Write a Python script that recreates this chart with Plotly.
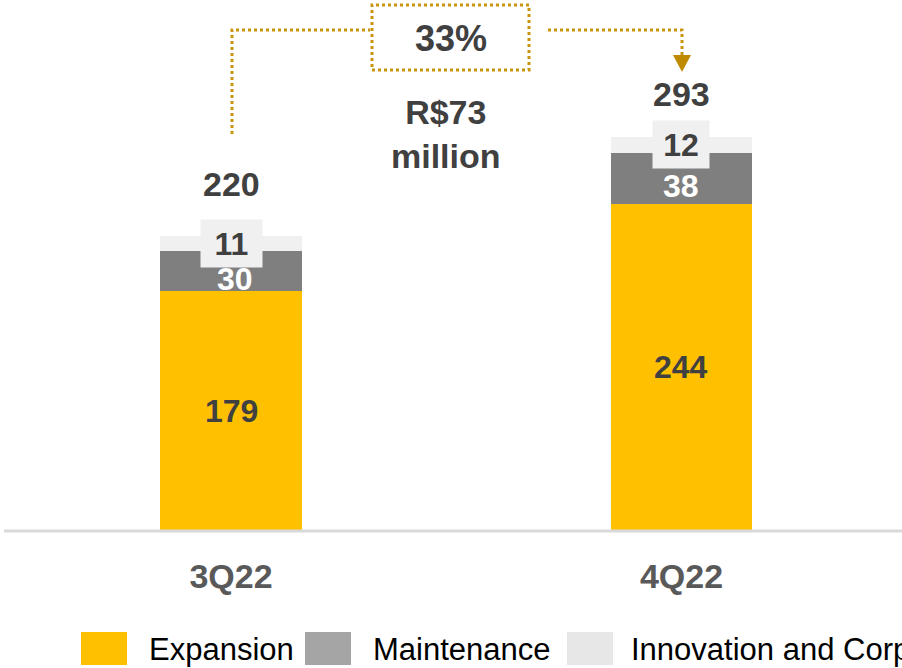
import plotly.graph_objects as go

# Capex by quarter, R$ million
quarters = ["3Q22", "4Q22"]
expansion = [179, 244]
maintenance = [30, 38]
innovation = [11, 12]
totals = [220, 293]
growth_label = "33%"
delta_label = "R$73<br>million"
legend_names = ["Expansion", "Maintenance", "Innovation and Corporate"]

W, H = 902, 668
PLOT_BOTTOM = 531  # pixel row of the baseline
FONT = "Liberation Sans, Arial, sans-serif"
DARK = "#404040"
GOLD = "#C9940E"

bar_colors = ["#FFC000", "#7F7F7F", "#F0F0F0"]
legend_colors = ["#FFC000", "#A5A5A5", "#E7E7E7"]


def px(x):
    return x / W


def py(y):
    return (PLOT_BOTTOM - y) / PLOT_BOTTOM


fig = go.Figure()
for name, vals, col in zip(legend_names, [expansion, maintenance, innovation], bar_colors):
    fig.add_trace(go.Bar(
        x=quarters, y=vals, name=name, marker=dict(color=col, line=dict(width=0)),
        width=0.315, showlegend=False, hoverinfo="skip",
    ))

annotations = []
for i, q in enumerate(quarters):
    e, m, n = expansion[i], maintenance[i], innovation[i]
    # expansion value
    annotations.append(dict(x=q, y=e / 2, text=f"<b>{e}</b>", showarrow=False,
                            font=dict(family=FONT, size=32, color=DARK)))
    # maintenance value (white)
    annotations.append(dict(x=q, y=e + m / 2, text=f"<b>{m}</b>", showarrow=False,
                            yshift=-8, xshift=4 if i == 0 else 0,
                            font=dict(family=FONT, size=32, color="white")))
    # innovation value on a light tag
    annotations.append(dict(x=q, y=e + m + n / 2, text=f"<b>{n}</b>", showarrow=False,
                            bgcolor="#F0F0F0", width=54 if i == 1 else 59, height=45,
                            font=dict(family=FONT, size=32, color=DARK)))
    # total on top
    annotations.append(dict(x=q, y=totals[i], text=f"<b>{totals[i]}</b>", showarrow=False,
                            yshift=52 if i == 0 else 44,
                            font=dict(family=FONT, size=34, color=DARK)))

# growth callout
annotations.append(dict(xref="paper", yref="paper", x=px(451), y=py(39),
                        xanchor="center", yanchor="middle",
                        text=f"<b>{growth_label}</b>", showarrow=False,
                        font=dict(family=FONT, size=36, color=DARK)))
annotations.append(dict(xref="paper", yref="paper", x=px(446), y=py(134),
                        xanchor="center", yanchor="middle",
                        text=f"<b>{delta_label}</b>", showarrow=False,
                        font=dict(family=FONT, size=34, color=DARK)))

# legend text
legend_sq_x = [81, 305, 567]
legend_tx_x = [147, 371, 629]
for name, col, sx, tx in zip(legend_names, legend_colors, legend_sq_x, legend_tx_x):
    annotations.append(dict(xref="paper", yref="paper", x=px(tx), y=py(649),
                            xanchor="left", yanchor="middle", text=name, showarrow=False,
                            font=dict(family=FONT, size=31, color="#000000")))

shapes = []
for col, sx in zip(legend_colors, legend_sq_x):
    shapes.append(dict(type="rect", xref="paper", yref="paper",
                       x0=px(sx), x1=px(sx + 46), y0=py(665), y1=py(632),
                       fillcolor=col, line=dict(width=0)))

# baseline
shapes.append(dict(type="line", xref="paper", yref="paper", x0=px(4), x1=1, y0=0, y1=0,
                   line=dict(color="#D9D9D9", width=3)))

dot = dict(color=GOLD, width=3, dash="3px,3px")
# dotted box around the growth figure
shapes.append(dict(type="rect", xref="paper", yref="paper",
                   x0=px(372), x1=px(529), y0=py(70), y1=py(5), line=dot))
# left connector
shapes.append(dict(type="path", xref="paper", yref="paper",
                   path=f"M {px(232)},{py(134)} L {px(232)},{py(30)} L {px(370)},{py(30)}",
                   line=dot))
# right connector
shapes.append(dict(type="path", xref="paper", yref="paper",
                   path=f"M {px(548)},{py(30)} L {px(682)},{py(30)} L {px(682)},{py(56)}",
                   line=dot))
# arrowhead
shapes.append(dict(type="path", xref="paper", yref="paper",
                   path=f"M {px(673)},{py(55)} L {px(691)},{py(55)} L {px(682)},{py(72)} Z",
                   fillcolor="#BF8A00", line=dict(width=0)))

fig.update_layout(
    width=W, height=H, barmode="stack",
    margin=dict(l=0, r=0, t=0, b=H - PLOT_BOTTOM, pad=0),
    paper_bgcolor="white", plot_bgcolor="white",
    xaxis=dict(type="category", range=[-0.5128, 1.4895], showgrid=False, zeroline=False,
               showline=False, ticks="", ticklabelstandoff=22,
               tickfont=dict(family=FONT, size=34, color="#595959"),
               tickvals=quarters, ticktext=[f"<b>{q}</b>" for q in quarters]),
    yaxis=dict(range=[0, PLOT_BOTTOM / 1.341], visible=False),
    annotations=annotations, shapes=shapes,
)

fig.write_html("out.html")
